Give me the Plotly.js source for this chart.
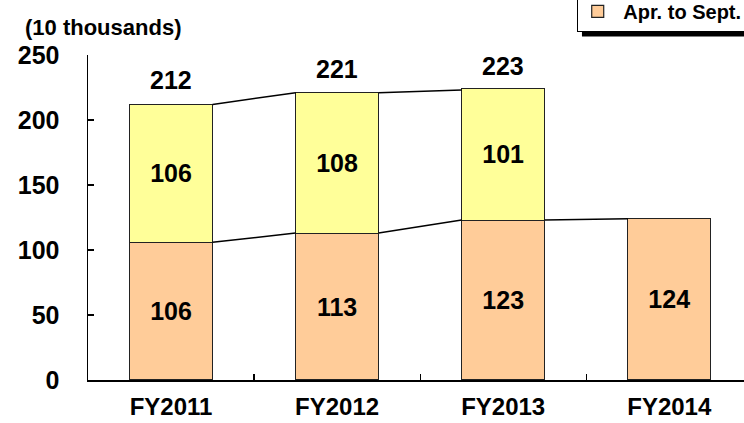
<!DOCTYPE html>
<html>
<head>
<meta charset="utf-8">
<script src="https://cdn.plot.ly/plotly-3.0.1.min.js"></script>
<style>
  html, body { margin: 0; padding: 0; background: white; }
  #chart { width: 744px; height: 423px; }
</style>
</head>
<body>
<div id="chart"></div>
<script>
var years = ['FY2011', 'FY2012', 'FY2013', 'FY2014'];
var aprSept = [106, 113, 123, 124];
var octMar = [106, 108, 101];
var totals = [212, 221, 223];

var xIdx = years.map(function (y, i) { return i; });
var half = 0.25;  // half bar width

// connector lines from the right edge of one bar to the left edge of the next
var lowX = [], lowY = [];
for (var i = 0; i < aprSept.length - 1; i++) {
  lowX.push(i + half, i + 1 - half, null);
  lowY.push(aprSept[i], aprSept[i + 1], null);
}
var topX = [], topY = [];
for (var i = 0; i < totals.length - 1; i++) {
  topX.push(i + half, i + 1 - half, null);
  topY.push(totals[i], totals[i + 1], null);
}

var font = 'Liberation Sans, Arial, sans-serif';

var data = [
  {
    x: xIdx,
    y: aprSept,
    name: '\u00a0Apr. to Sept.',
    type: 'bar',
    width: 0.5,
    text: aprSept.map(String),
    textposition: 'inside',
    insidetextanchor: 'middle',
    textfont: {family: font, size: 25, color: 'black', weight: 'bold'},
    marker: {color: '#FFCC99', line: {color: '#222222', width: 1.2}},
    hoverinfo: 'none'
  },
  {
    x: xIdx.slice(0, octMar.length),
    y: octMar,
    name: 'Oct. to Mar.',
    type: 'bar',
    width: 0.5,
    showlegend: false,
    text: octMar.map(String),
    textposition: 'inside',
    insidetextanchor: 'middle',
    textfont: {family: font, size: 25, color: 'black', weight: 'bold'},
    marker: {color: '#FFFF99', line: {color: '#222222', width: 1.2}},
    hoverinfo: 'none'
  },
  {
    x: lowX, y: lowY, type: 'scatter', mode: 'lines',
    line: {color: 'black', width: 1.5}, showlegend: false, hoverinfo: 'none'
  },
  {
    x: topX, y: topY, type: 'scatter', mode: 'lines',
    line: {color: 'black', width: 1.5}, showlegend: false, hoverinfo: 'none'
  }
];

var annotations = totals.map(function (t, i) {
  return {
    x: i, y: t, xref: 'x', yref: 'y',
    text: String(t), showarrow: false,
    yanchor: 'middle', yshift: 24,
    font: {family: font, size: 25, color: 'black', weight: 'bold'}
  };
});
annotations.push({
  x: -0.099, y: 1.086, xref: 'paper', yref: 'paper',
  xanchor: 'left', yanchor: 'middle',
  text: '(10 thousands)', showarrow: false,
  font: {family: font, size: 22, color: 'black', weight: 'bold'}
});

var layout = {
  width: 744,
  height: 423,
  margin: {l: 88, r: 0, t: 55, b: 43, autoexpand: false},
  paper_bgcolor: 'white',
  plot_bgcolor: 'white',
  barmode: 'stack',
  font: {family: font, color: 'black', weight: 'bold'},
  showlegend: true,
  legend: {
    orientation: 'h',
    x: 0.745, xanchor: 'left',
    y: 1.071, yanchor: 'bottom',
    bgcolor: 'white',
    bordercolor: 'black',
    borderwidth: 1,
    entrywidth: 220,
    itemwidth: 30,
    font: {family: font, size: 20, color: 'black', weight: 'bold'}
  },
  xaxis: {
    range: [-0.5, 3.45],
    tickmode: 'array',
    tickvals: xIdx,
    ticktext: years,
    ticks: '',
    ticklabelstandoff: 5,
    tickfont: {family: font, size: 24, color: 'black', weight: 'bold'},
    minor: {tickmode: 'array', tickvals: [0.5, 1.5, 2.5], ticks: 'inside', ticklen: 6, tickcolor: 'black', tickwidth: 1.2},
    showline: true, linecolor: 'black', linewidth: 1.5,
    showgrid: false, zeroline: false, fixedrange: true
  },
  yaxis: {
    range: [0, 250],
    tickmode: 'array',
    tickvals: [0, 50, 100, 150, 200, 250],
    ticks: 'inside', ticklen: 6, tickcolor: 'black', tickwidth: 1.2,
    ticklabelstandoff: 22,
    tickfont: {family: font, size: 25, color: 'black', weight: 'bold'},
    showline: true, linecolor: 'black', linewidth: 1.5,
    showgrid: false, zeroline: false, fixedrange: true
  },
  shapes: [
    {
      type: 'rect', xref: 'paper', yref: 'paper', layer: 'below',
      x0: 0.753, x1: 1.1, y0: 1.057, y1: 1.2,
      fillcolor: 'black', line: {width: 0}
    }
  ],
  annotations: annotations
};

Plotly.newPlot('chart', data, layout, {displayModeBar: false, staticPlot: true});
</script>
</body>
</html>
